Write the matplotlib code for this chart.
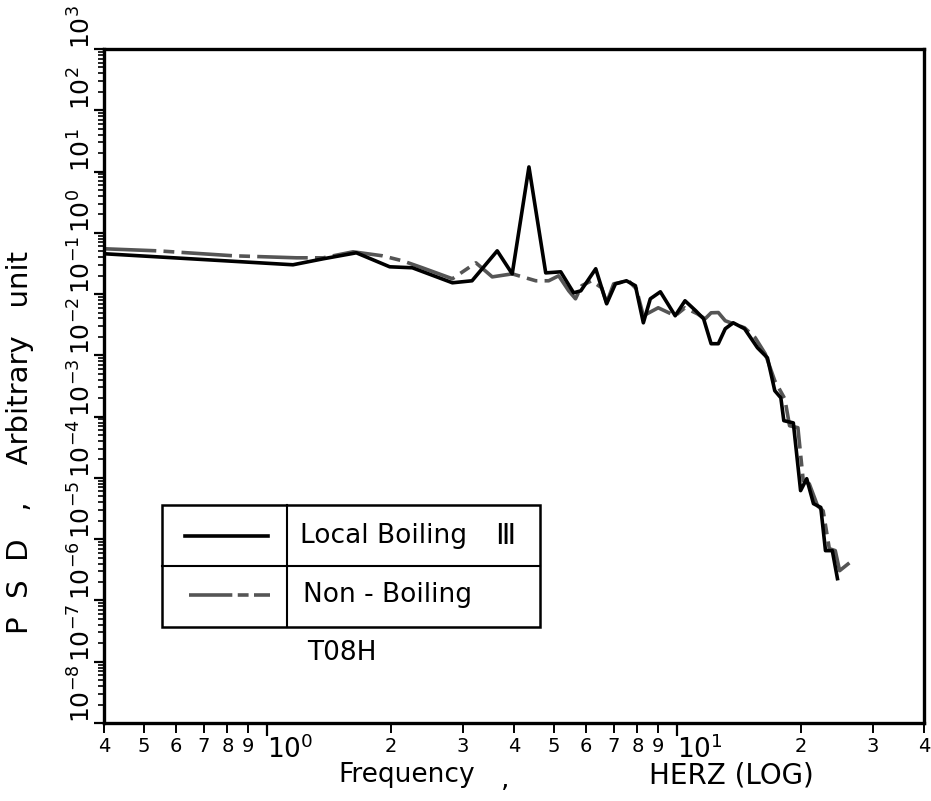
import numpy as np
import matplotlib
matplotlib.use("Agg")
import matplotlib.pyplot as plt
from matplotlib.lines import Line2D
from matplotlib.patches import Rectangle

# Local Boiling III (solid)
lb_freq = [0.404, 0.650, 1.156, 1.37, 1.65, 1.99, 2.26, 2.83, 3.16, 3.64,
           3.96, 4.35, 4.78, 5.20, 5.59, 5.82, 6.33, 6.73, 7.07, 7.52,
           7.91, 8.27, 8.60, 9.10, 9.89, 10.45, 11.1, 11.6, 12.1, 12.6,
           13.1, 13.7, 14.6, 15.7, 16.6, 17.3, 17.9, 18.2, 19.2, 20.0,
           20.7, 21.5, 22.4, 23.0, 23.9, 24.6]
lb_psd = [0.454, 0.377, 0.301, 0.377, 0.472, 0.279, 0.269, 0.153, 0.165, 0.508,
          0.214, 11.9, 0.222, 0.231, 0.105, 0.113, 0.259, 0.0695, 0.147, 0.165,
          0.137, 0.034, 0.0838, 0.109, 0.0443, 0.0778, 0.0534, 0.0395, 0.0155, 0.0155,
          0.0272, 0.034, 0.0272, 0.0133, 0.00914, 0.00265, 0.00203, 8.6e-4, 7.9e-4, 6.2e-5,
          9.7e-5, 3.8e-5, 3.3e-5, 6.5e-6, 6.5e-6, 2.27e-6]

# Non-Boiling (dash-dot)
nb_freq = [0.404, 0.541, 0.827, 1.18, 1.37, 1.62, 1.91, 2.14, 2.39, 2.83,
           3.23, 3.54, 3.96, 4.52, 4.86, 5.14, 5.44, 5.65, 5.85, 6.18,
           6.54, 6.73, 7.0, 7.61, 7.95, 8.27, 8.99, 9.89, 10.45, 11.2,
           11.7, 12.1, 12.6, 13.1, 14.6, 15.5, 16.4, 17.3, 18.3, 18.8,
           19.7, 20.3, 21.0, 22.0, 22.7, 23.5, 24.3, 24.9, 26.3]
nb_psd = [0.548, 0.508, 0.422, 0.391, 0.391, 0.490, 0.422, 0.349, 0.269, 0.178,
          0.324, 0.191, 0.214, 0.165, 0.165, 0.199, 0.113, 0.0838, 0.137, 0.165,
          0.127, 0.0721, 0.147, 0.165, 0.122, 0.0443, 0.0598, 0.0443, 0.0598, 0.0477,
          0.0395, 0.0495, 0.050, 0.0367, 0.0282, 0.0194, 0.0106, 0.00385, 0.00196, 7.1e-4,
          6.6e-4, 9.0e-5, 8.0e-5, 3.5e-5, 2.9e-5, 7.0e-6, 6.5e-6, 3.06e-6, 4.1e-6]

y_decades = list(range(-8, 4))
x_major = [1, 10]
x_major_labels = [r"$10^{0}$", r"$10^{1}$"]
x_minor = [0.4, 0.5, 0.6, 0.7, 0.8, 0.9, 2, 3, 4, 5, 6, 7, 8, 9, 20, 30, 40]
x_minor_labels = ["4", "5", "6", "7", "8", "9", "2", "3", "4", "5", "6", "7",
                  "8", "9", "2", "3", "4"]

fig = plt.figure(figsize=(9.31, 8.01), dpi=100)
ax = fig.add_axes([0.1117, 0.0974, 0.8808, 0.8414])
ax.set_xscale("log")
ax.set_yscale("log")
ax.set_xlim(0.4, 40)
ax.set_ylim(1e-8, 1e3)

nb_style = dict(color="#555555", lw=2.6, linestyle=(0, (14, 2, 3, 2)))
lb_style = dict(color="black", lw=2.6, linestyle="-")
ax.plot(nb_freq, nb_psd, **nb_style)
ax.plot(lb_freq, lb_psd, **lb_style)

for s in ax.spines.values():
    s.set_linewidth(2.4)

# y ticks, labels sit just above their decade tick
ax.set_yticks([10.0**d for d in y_decades],
              labels=[r"$10^{%d}$" % d for d in y_decades])
ax.yaxis.set_minor_locator(matplotlib.ticker.LogLocator(base=10, subs=np.arange(2, 10), numticks=30))
ax.yaxis.set_minor_formatter(matplotlib.ticker.NullFormatter())
ax.tick_params(axis="y", which="major", direction="out", length=7, width=1.6,
               labelsize=18, pad=-1)
ax.tick_params(axis="y", which="minor", direction="out", length=4, width=1.2)
for lab in ax.get_yticklabels():
    lab.set_rotation(90)
    lab.set_va("bottom")
    lab.set_ha("right")

# x ticks
ax.set_xticks(x_major, labels=x_major_labels)
ax.set_xticks(x_minor, labels=x_minor_labels, minor=True)
ax.tick_params(axis="x", which="major", direction="out", length=9, width=1.6,
               labelsize=19, pad=0)
ax.tick_params(axis="x", which="minor", direction="out", length=7, width=1.4,
               labelsize=14, pad=3)
for lab in ax.get_xticklabels():
    lab.set_ha("left")

# axis titles
fig.text(0.022, 0.448, "P  S  D   ,    Arbitrary   unit", rotation=90,
         ha="center", va="center", fontsize=21)
fig.text(0.437, 0.032, "Frequency", ha="center", va="center", fontsize=19)
fig.text(0.543, 0.026, ",", ha="center", va="center", fontsize=19)
fig.text(0.786, 0.032, "HERZ (LOG)", ha="center", va="center", fontsize=20)

# legend box
ax.add_patch(Rectangle((0.0707, 0.1424), 0.461, 0.181, transform=ax.transAxes,
                       fill=False, lw=1.8, color="black"))
ax.add_line(Line2D([0.0707, 0.5317], [0.2329, 0.2329], transform=ax.transAxes,
                   color="black", lw=1.5))
ax.add_line(Line2D([0.2232, 0.2232], [0.1424, 0.3234], transform=ax.transAxes,
                   color="black", lw=1.5))
ax.add_line(Line2D([0.0988, 0.2], [0.2774, 0.2774], transform=ax.transAxes, **lb_style))
ax.add_line(Line2D([0.1037, 0.2024], [0.1899, 0.1899], transform=ax.transAxes,
                   color="#555555", lw=2.6, linestyle=(0, (12, 1.5, 3, 1.5))))
ax.text(0.239, 0.2774, "Local Boiling", transform=ax.transAxes,
        ha="left", va="center", fontsize=19)
ax.text(0.477, 0.2774, "\u2162", transform=ax.transAxes,
        ha="left", va="center", fontsize=21)
ax.text(0.2427, 0.1899, "Non - Boiling", transform=ax.transAxes,
        ha="left", va="center", fontsize=19)
ax.text(0.2476, 0.1039, "T08H", transform=ax.transAxes,
        ha="left", va="center", fontsize=19)

fig.savefig("out.png", dpi=100)
